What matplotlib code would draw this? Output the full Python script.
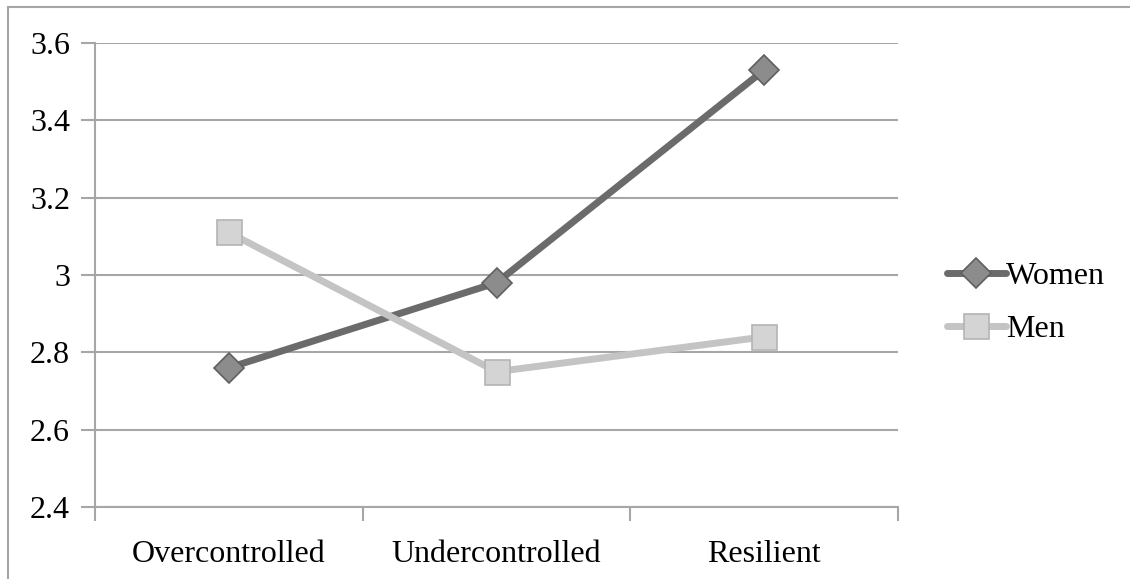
import matplotlib
matplotlib.use('Agg')
from matplotlib import pyplot as plt
from matplotlib.patches import Rectangle

categories = ['Overcontrolled', 'Undercontrolled', 'Resilient']
women = [2.76, 2.98, 3.53]
men = [3.11, 2.75, 2.84]
yticks = [2.4, 2.6, 2.8, 3.0, 3.2, 3.4, 3.6]
ytick_labels = ['2.4', '2.6', '2.8', '3', '3.2', '3.4', '3.6']

plt.rcParams['font.family'] = ['Liberation Serif', 'DejaVu Serif']

fig = plt.figure(figsize=(11.3, 5.79), dpi=100)
ax = fig.add_axes([95/1130, 1-507/579, (898-95)/1130, (507-43)/579])

# outer chart border (right and bottom edges run off the image)
fig.patches.append(Rectangle((8/1130, -0.05), 1.1, 1 - 7/579 + 0.05, transform=fig.transFigure,
                             fill=False, edgecolor='#a6a6a6', linewidth=1.5))

x = list(range(len(categories)))
ax.plot(x, women, color='#6b6b6b', linewidth=5, marker='D', markersize=15,
        markerfacecolor='#8c8c8c', markeredgecolor='#606060', markeredgewidth=1.2,
        label='Women', zorder=3, solid_capstyle='round')
ax.plot(x, men, color='#c4c4c4', linewidth=5, marker='s', markersize=18,
        markerfacecolor='#d4d4d4', markeredgecolor='#b4b4b4', markeredgewidth=1.2,
        label='Men', zorder=3, solid_capstyle='round')

ax.set_xlim(-0.5, 2.5)
ax.set_ylim(2.4, 3.6)
ax.set_yticks(yticks)
ax.set_yticklabels(ytick_labels, fontsize=23)
ax.yaxis.grid(True, color='#a6a6a6', linewidth=1.5)
ax.set_axisbelow(True)

ax.set_xticks(x)
ax.set_xticklabels(categories, fontsize=23)
ax.set_xticks([-0.5, 0.5, 1.5, 2.5], minor=True)
ax.tick_params(axis='x', which='major', length=0, pad=24)
ax.tick_params(axis='x', which='minor', length=10, color='#a6a6a6', width=1.5)
ax.tick_params(axis='y', length=10, color='#a6a6a6', width=1.5, pad=8)

for s in ['top', 'right']:
    ax.spines[s].set_visible(False)
for s in ['left', 'bottom']:
    ax.spines[s].set_color('#a6a6a6')
    ax.spines[s].set_linewidth(1.5)

leg = ax.legend(loc='center left', bbox_to_anchor=(1.025, 0.44), frameon=False,
                fontsize=23, handlelength=1.85, handletextpad=0.0, labelspacing=0.75)

fig.savefig('out.png', dpi=100)
